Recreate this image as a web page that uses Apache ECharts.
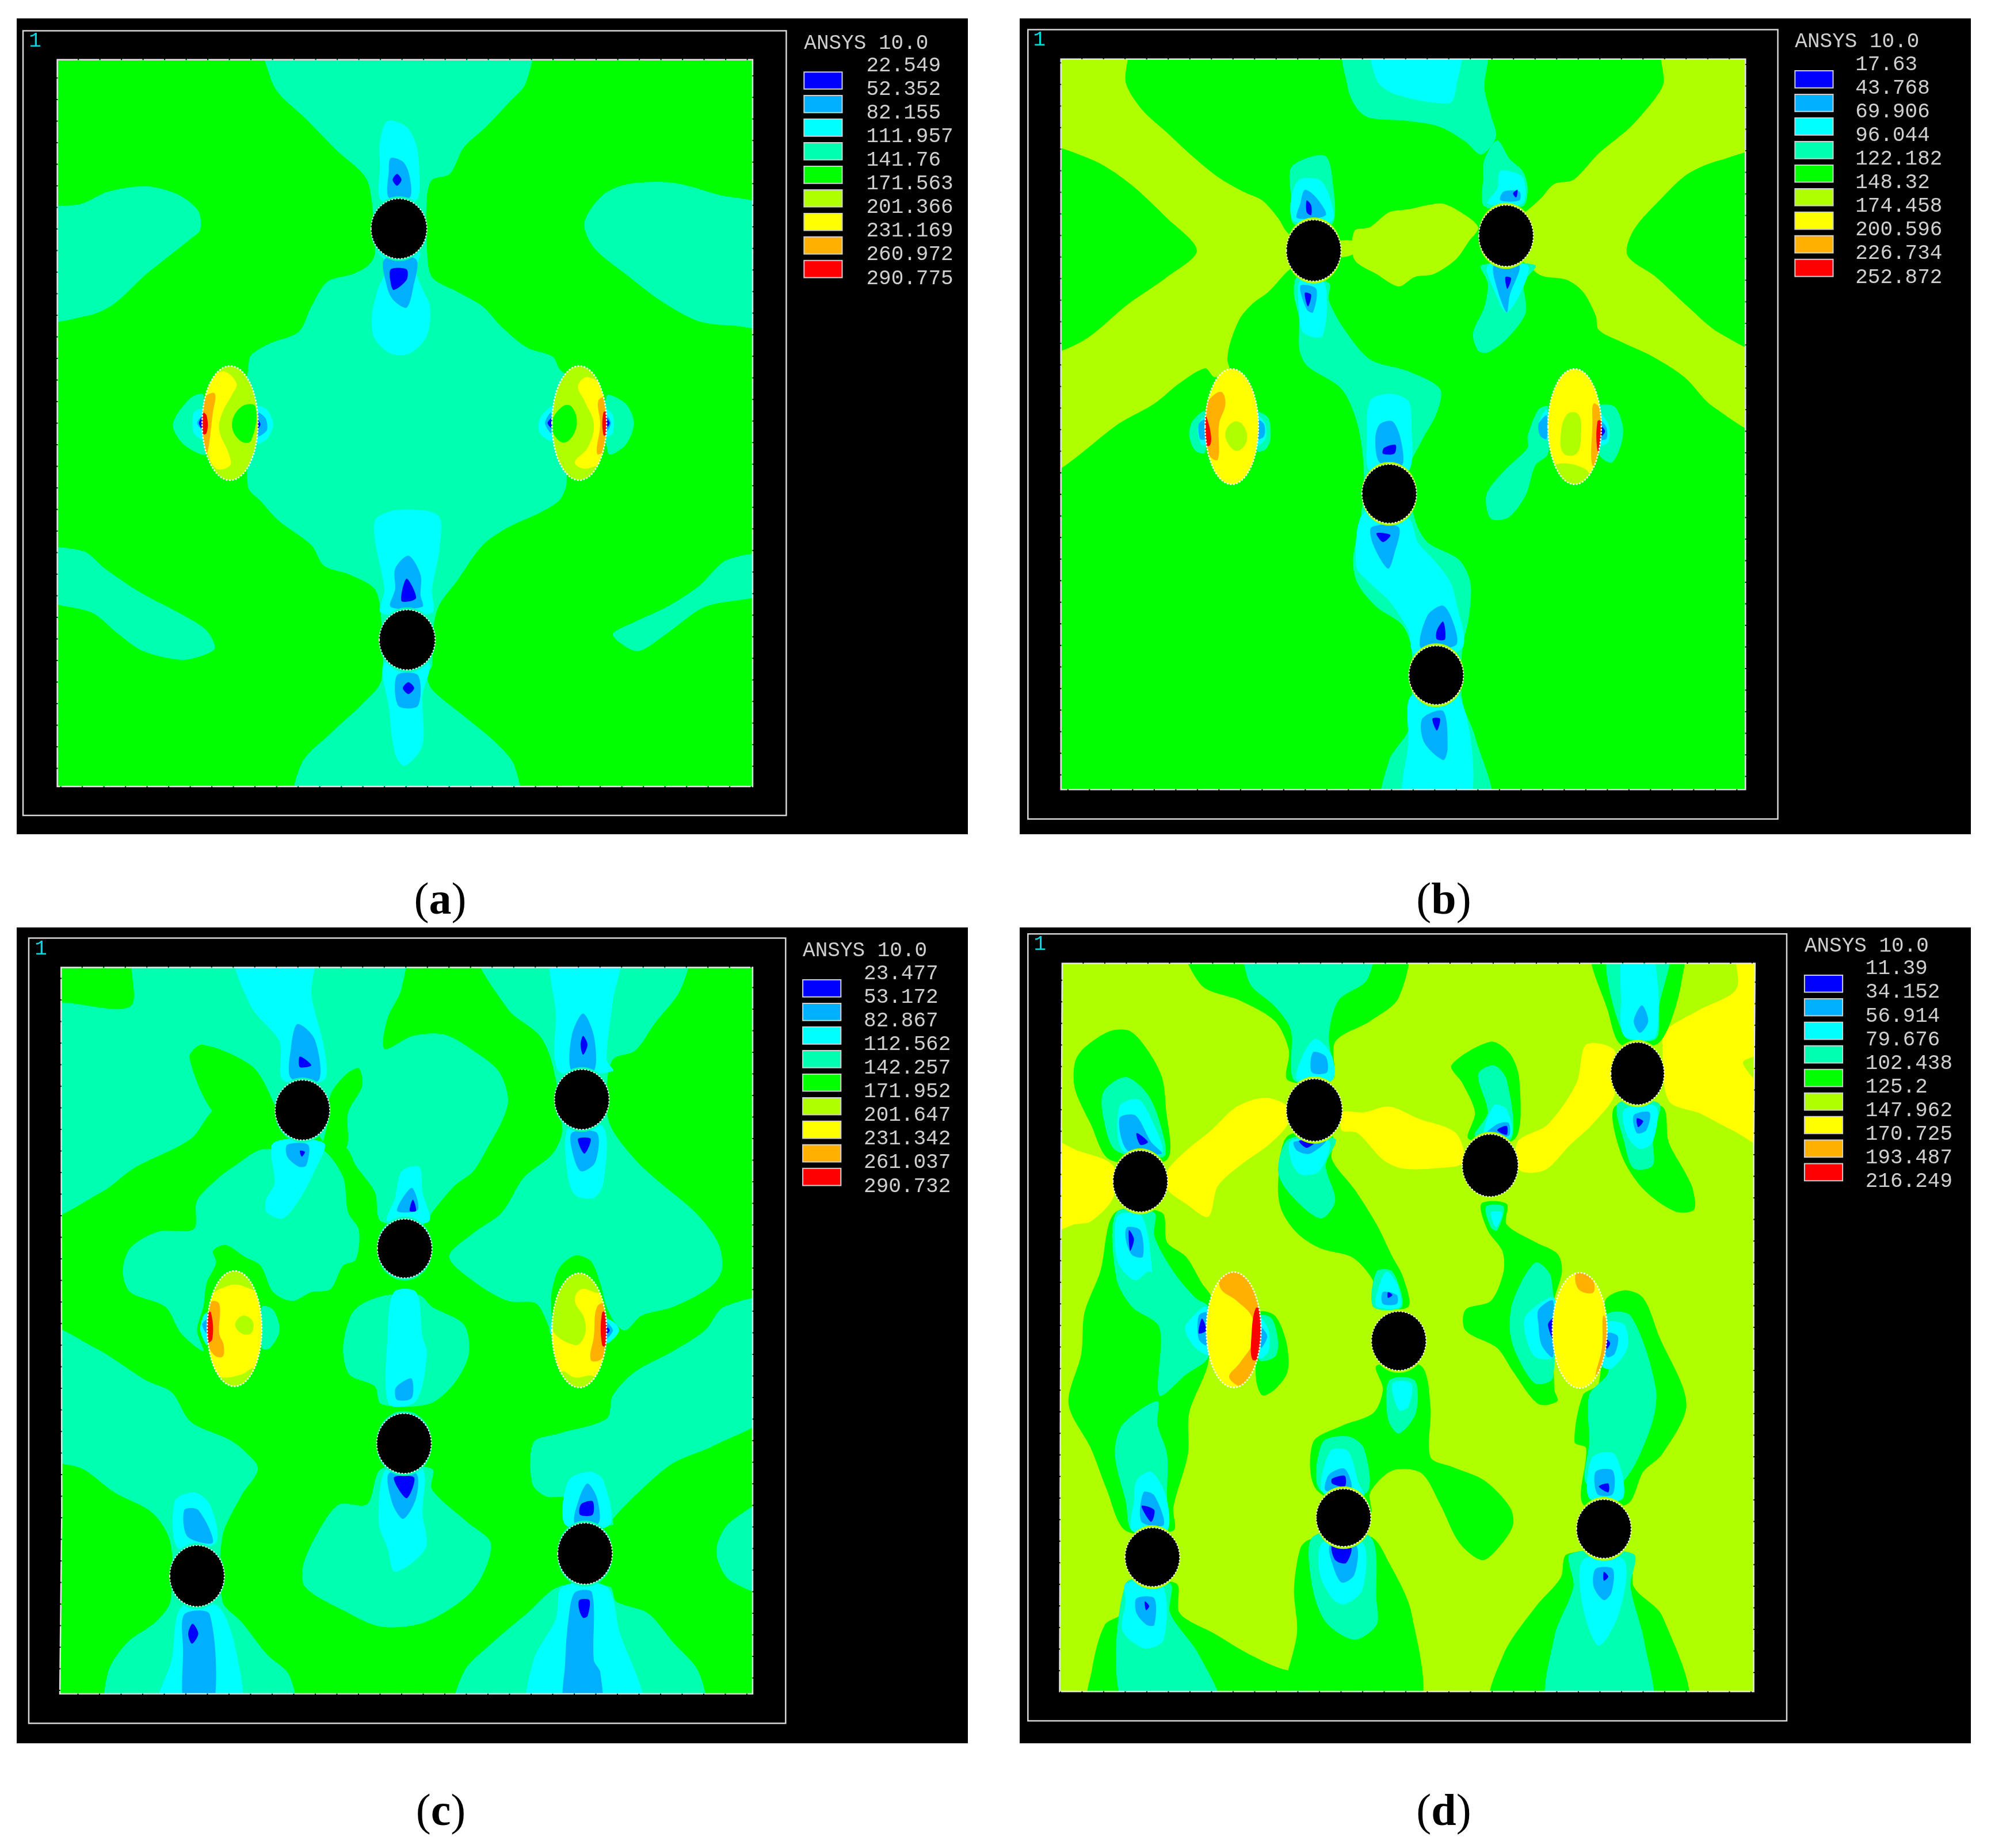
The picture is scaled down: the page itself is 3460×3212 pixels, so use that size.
<!DOCTYPE html>
<html><head><meta charset="utf-8"><style>html,body{margin:0;padding:0;background:#fff}#c{width:3460px;height:3212px}</style>
<script src="https://cdn.jsdelivr.net/npm/echarts@6/dist/echarts.min.js"></script></head><body><div id="c"></div>
<script>
// Contour colours, lowest band first
const bandColors=['#0000ff','#00b0ff','#00ffff','#00ffb0','#00ff00','#b0ff00','#ffff00','#ffb000','#ff0000'];
// Legend values
const legendA=['22.549','52.352','82.155','111.957','141.76','171.563','201.366','231.169','260.972','290.775'];
const legendB=['17.63','43.768','69.906','96.044','122.182','148.32','174.458','200.596','226.734','252.872'];
const legendC=['23.477','53.172','82.867','112.562','142.257','171.952','201.647','231.342','261.037','290.732'];
const legendD=['11.39','34.152','56.914','79.676','102.438','125.2','147.962','170.725','193.487','216.249'];
// Contour regions as [band, flat outline in model units]
const contoursA=[
[4,[90,101,1185,101,1185,1335,90,1335]],
[3,[418,101,832,101,828,140,800,175,765,215,730,250,708,295,680,305,672,335,672,420,680,470,720,495,760,520,790,555,830,590,870,605,880,625,892,640,892,820,890,830,880,850,850,870,800,895,760,925,720,985,690,1030,680,1085,680,1130,672,1145,680,1170,730,1215,780,1260,810,1300,813,1335,468,1335,475,1295,520,1245,570,1195,600,1155,600,1050,590,1000,550,975,510,960,490,925,440,885,410,850,390,825,392,610,420,585,470,563,490,520,515,478,555,465,580,450,590,430,585,340,575,300,530,255,480,200,440,160,425,130]],
[3,[90,362,130,345,170,325,230,316,280,330,312,358,315,390,300,405,265,435,230,465,180,515,140,535,90,540]],
[3,[1185,358,1130,330,1060,310,990,312,950,330,920,378,935,420,985,465,1040,510,1100,545,1150,552,1185,550]],
[3,[90,935,130,935,165,965,220,1005,290,1045,325,1070,338,1100,320,1112,285,1120,225,1105,185,1075,145,1040,90,1012]],
[3,[1185,943,1145,950,1100,995,1050,1030,1000,1055,965,1075,975,1090,1005,1105,1050,1075,1110,1030,1185,1003]],
[3,[320,670,300,675,272,720,290,755,325,770]],
[3,[955,672,985,685,998,718,985,755,958,770]],
[2,[610,205,640,215,655,245,660,290,655,340,600,340,598,280,598,240]],
[2,[595,425,660,425,655,460,665,490,677,520,672,570,645,600,615,600,590,575,585,540,595,490,610,450]],
[2,[592,880,630,865,690,875,692,930,680,1000,680,1040,600,1040,605,1000,590,915]],
[2,[605,1125,675,1125,665,1180,665,1265,637,1300,622,1280,612,1200]],
[2,[320,695,305,700,305,735,320,745]],[2,[405,690,420,695,430,720,420,745,405,752]],
[2,[955,695,965,705,965,735,955,740]],[2,[870,690,850,710,850,735,870,748]],
[1,[615,268,635,275,645,300,645,335,612,335,612,290]],[1,[605,440,655,440,650,490,640,522,620,510,610,490]],
[1,[643,943,662,975,662,1010,665,1030,615,1030,622,1000,622,965]],[1,[625,1146,658,1146,658,1198,627,1198]],
[1,[320,705,310,718,320,730]],[1,[405,700,418,710,420,730,405,740]],[1,[955,705,962,718,955,732]],[1,[868,700,858,718,868,735]],
[0,[625,295,632,305,625,315,618,305]],[0,[615,457,640,457,640,475,620,492,615,480]],[0,[640,982,655,1015,632,1020]],[0,[643,1158,652,1168,643,1178,634,1168]],
[0,[318,708,313,718,318,728]],[0,[405,712,410,720,405,728]],[0,[955,710,960,718,955,726]],[0,[868,710,862,718,868,726]]];
// Elliptical inclusions as [cx, cy, rx, ry, base band], contours inside them as [inclusion, band, flat outline]
const inclusionsA=[[362,718,44,97,5],[912,718,43,97,5]];
const insideA=[
[0,6,[350,630,372,650,365,670,350,700,345,730,360,770,362,790,340,795,325,760,318,700,330,650]],
[0,7,[322,675,338,668,335,700,325,770,316,720]],[0,8,[316,700,325,705,325,735,316,735]],[0,4,[380,690,402,690,395,748,378,748,365,720]],
[1,6,[925,640,950,660,958,770,925,795,905,785,925,760,935,720,920,680,910,655]],
[1,7,[942,680,955,675,955,760,940,770,945,720]],[1,8,[950,700,957,700,957,738,950,738]],[1,4,[885,690,900,690,908,720,895,748,880,748,868,720]]];
const holesA=[[628,388,44,51],[641,1086,44,51]];
const rimBandA=3;

const contoursB=[
[4,[103,100,1181,100,1181,1340,103,1340]],
[5,[103,100,205,100,205,140,230,185,270,225,310,265,350,300,390,325,420,340,445,370,460,395,500,425,460,460,430,495,405,515,385,540,370,580,365,610,368,628,345,640,330,625,290,650,250,685,200,715,103,797]],
[4,[103,255,150,270,210,310,270,370,317,425,270,470,210,515,135,580,103,595]],
[5,[1052,100,1181,100,1181,730,1130,690,1085,640,1035,605,985,580,950,560,945,535,925,495,900,475,855,465,804,400,860,335,880,312,910,305,950,260,1000,215,1040,165,1052,140]],
[4,[1181,262,1140,272,1090,295,1050,335,1005,390,995,433,1040,470,1090,520,1140,565,1181,592]],
[5,[565,392,590,385,620,360,650,355,700,345,725,355,760,385,745,410,725,440,690,465,660,470,635,486,600,465,565,440]],
[5,[540,410,565,410,565,430,540,435]],
[3,[552,100,770,100,770,150,780,195,788,232,765,262,740,240,700,215,650,205,590,200,570,185,555,150]],
[3,[790,238,810,270,830,290,838,320,830,350,770,350,768,300,770,270]],
[3,[765,450,850,450,832,480,835,530,805,575,775,598,760,595,752,565,770,520,775,480]],
[3,[465,285,490,268,520,265,530,300,530,380,470,380,465,330]],
[3,[475,470,525,480,525,510,550,560,590,610,650,630,700,660,695,700,670,750,650,800,660,880,680,920,730,950,748,990,745,1050,735,1100,735,1190,755,1250,778,1340,612,1340,620,1290,650,1240,655,1190,655,1100,640,1060,600,1030,570,990,563,950,575,880,580,800,570,720,545,660,490,620,478,590,478,540,470,500]],
[3,[870,690,855,695,838,740,838,760,800,800,773,840,780,880,808,878,835,840,850,790,870,770]],
[3,[950,690,975,690,988,725,985,755,970,785,950,770]],
[3,[330,698,310,715,305,740,315,765,330,768]],[3,[412,700,430,710,433,745,425,763,412,765]],
[2,[595,100,730,100,725,150,715,175,630,160,600,135]],
[2,[478,305,510,305,525,330,530,375,470,375,465,340]],
[2,[480,475,518,480,515,570,485,565,478,530]],
[2,[795,290,830,300,830,345,775,345,790,320]],
[2,[775,450,838,450,830,490,805,530,790,505]],
[2,[590,680,620,668,650,680,655,720,650,800,590,800,585,740]],
[2,[580,870,650,880,665,920,690,950,715,985,725,1020,735,1100,660,1110,650,1070,620,1020,590,990,568,960]],
[2,[655,1180,730,1180,745,1340,645,1340,650,1260]],
[2,[325,710,318,730,325,755,335,750,335,710]],[2,[412,705,425,720,425,745,412,755]],
[2,[868,695,855,720,862,745,870,745]],[2,[950,700,965,720,965,750,950,755]],
[1,[487,322,505,335,520,365,475,370,480,345]],[1,[480,485,505,490,500,530,490,525]],
[1,[800,325,825,325,825,340,795,340]],[1,[785,450,825,450,810,500,805,530,790,490]],
[1,[605,720,625,715,638,745,640,790,605,785,598,745]],[1,[592,895,635,895,628,940,618,965,595,925]],
[1,[680,1045,705,1028,722,1060,725,1095,670,1100]],[1,[672,1220,705,1207,712,1270,705,1290,675,1260]],
[1,[320,720,330,712,330,745,322,745]],[1,[412,712,423,720,423,740,412,745]],
[1,[868,705,855,720,858,740,868,745]],[1,[950,712,962,725,962,745,950,745]],
[0,[490,340,497,348,497,365,490,360]],[0,[487,497,497,500,492,520]],[0,[803,470,812,472,806,490]],
[0,[612,760,630,755,628,770,610,770]],[0,[600,905,622,908,610,920]],[0,[695,1070,705,1055,708,1085,695,1085]],
[0,[688,1220,700,1220,695,1240]],[0,[815,328,822,322,820,335]],[0,[952,722,960,732,952,742]]];
const inclusionsB=[[372,724,42,98,6],[912,724,42,98,6]];
const insideB=[
[0,7,[335,680,355,665,362,685,352,720,350,780,335,770,328,700]],[0,8,[328,700,338,730,338,755,328,755]],
[0,5,[378,715,392,725,395,750,380,765,365,750,363,730]],
[1,5,[900,703,918,703,922,740,915,770,895,770,890,740]],[1,5,[880,790,930,797,935,830,890,830]],
[1,7,[942,685,955,700,955,770,940,790,940,720]],[1,8,[948,715,955,715,955,765,948,765]]];
const holesB=[[501,425,43,52],[804,400,43,52],[620,838,43,50],[694,1146,43,50]];
const rimBandB=5;

const contoursC=[
[4,[96,74,1185,74,1185,1307,94,1307,97,1000]],
[3,[96,145,205,140,215,74,632,74,632,110,610,160,605,212,650,190,700,188,745,215,785,250,800,298,790,335,770,375,745,420,715,445,680,490,672,505,600,505,590,455,560,410,545,380,510,370,476,316,345,310,300,365,210,415,160,455,96,495]],
[4,[298,228,318,205,395,240,425,290,440,350,345,330]],
[4,[515,340,520,290,545,255,565,245,570,275,548,320,545,380,510,380]],
[3,[490,395,510,385,540,430,548,490,565,520,560,570,540,580,520,620,490,625,460,640,430,625,410,580,385,565,355,545,335,555,340,575,325,610,320,650,310,690,320,725,285,695,260,650,205,625,193,590,205,550,250,522,305,518,310,470,345,430,370,410,415,382]],
[3,[412,650,430,655,440,690,425,720,412,720]],
[3,[755,74,1080,74,1072,110,1030,170,1000,215,965,230,955,280,960,340,1000,400,1040,440,1095,490,1130,540,1137,585,1120,615,1060,650,1010,665,985,690,970,680,955,650,945,610,930,572,905,563,880,585,868,630,868,690,845,645,800,640,750,610,707,565,745,525,790,490,825,430,870,390,885,350,870,240,850,190,800,145]],
[3,[96,685,150,720,230,775,270,795,300,845,360,875,385,895,406,925,380,970,350,1040,350,1150,380,1185,420,1240,455,1275,460,1307,172,1307,170,1270,200,1220,245,1185,268,1150,268,1050,240,1000,180,965,130,925,96,900]],
[3,[578,985,535,985,510,1015,478,1085,480,1125,540,1165,600,1193,670,1185,745,1130,773,1053,735,1015,680,960,680,925,600,925]],
[3,[610,630,660,630,680,650,730,680,738,730,715,780,675,815,600,815,590,785,550,765,540,720,552,665,570,645]],
[3,[1185,640,1140,650,1110,690,1060,725,1000,760,965,800,955,840,880,865,840,880,838,950,860,972,890,975,890,1020,965,1020,965,1010,1010,960,1060,915,1125,885,1185,825]],
[3,[720,1307,730,1270,770,1225,830,1170,880,1125,960,1125,970,1150,1020,1170,1060,1220,1100,1270,1105,1307]],
[3,[1185,980,1150,1015,1130,1050,1130,1080,1150,1115,1185,1135]],
[2,[632,420,660,412,665,455,675,505,610,505,622,465]],
[2,[895,945,930,930,950,945,960,1020,890,1020]],
[2,[370,74,492,74,490,120,510,210,510,265,445,265,440,200,395,140]],
[2,[430,372,510,372,495,420,470,470,445,500,420,490,418,470,432,440]],
[2,[870,74,975,74,965,130,955,230,965,250,880,250,875,150]],
[2,[895,345,950,345,950,440,935,465,905,460,893,420]],
[2,[620,625,655,625,665,700,672,730,655,810,612,815,610,700]],
[2,[608,925,665,925,665,1000,670,1060,622,1100,610,1060,596,1015]],
[2,[275,980,305,965,330,985,340,1050,280,1060]],
[2,[285,1160,345,1160,378,1270,375,1307,248,1307,270,1250]],
[2,[885,1125,955,1125,975,1200,1010,1307,835,1307,840,1250,875,1180]],
[2,[950,670,965,675,975,690,960,710,950,710]],[2,[320,665,326,660,326,715,315,690]],[2,[866,680,866,695,872,695,872,680]],
[1,[468,170,495,195,502,265,458,262,458,210]],[1,[452,375,485,375,482,410,470,412,452,395]],
[1,[918,152,935,190,935,250,900,250,900,190]],[1,[900,355,940,355,937,405,915,420,903,395]],
[1,[648,448,658,485,625,487]],[1,[630,780,648,772,648,805,625,808,622,790]],
[1,[612,933,655,933,655,975,635,1010,618,985]],[1,[290,995,312,995,335,1050,295,1040]],
[1,[290,1172,330,1172,335,1307,292,1307,288,1230]],[1,[925,950,940,975,942,1018,905,1018,912,975]],
[1,[905,1135,932,1135,935,1250,945,1270,945,1307,890,1307,890,1250,895,1180]],
[1,[953,675,965,690,953,705]],[1,[325,672,318,680,325,695]],
[0,[472,225,490,240,472,243]],[0,[472,385,480,387,475,395]],[0,[918,190,925,205,918,222,914,205]],
[0,[910,365,930,365,920,390]],[0,[650,468,655,487,645,487]],[0,[620,940,652,940,640,975]],
[0,[303,1188,312,1205,302,1222,296,1205]],[0,[915,985,933,980,933,1003,913,1003]],[0,[912,1148,928,1148,925,1175,918,1178,912,1165]],[0,[953,682,960,690,953,698]]];
const inclusionsC=[[369,687,43,98,6],[912,690,43,97,6]];
const insideC=[
[0,5,[325,585,415,585,415,628,395,620,370,612,350,618,325,628]],[0,5,[325,760,350,770,380,765,400,755,415,790,325,790]],
[0,5,[382,665,398,675,395,695,380,695,370,680]],[0,7,[332,642,345,645,345,695,352,715,350,735,335,730,325,700]],[0,8,[324,660,332,660,334,705,324,710]],
[1,5,[868,590,945,590,945,625,915,620,905,640,920,670,920,700,905,715,868,685]],[1,5,[885,760,905,770,935,768,945,790,880,790]],
[1,7,[940,650,955,645,957,720,945,740,930,740,935,700]],[1,8,[948,660,957,660,957,715,948,715]]];
const holesC=[[476,316,43,51],[916,298,43,51],[637,551,43,50],[636,882,43,51],[310,1107,43,52],[921,1069,43,52]];
const rimBandC=3;

const contoursD=[
[5,[105,67,1196,67,1194,380,1194,1303,101,1303,103,525]],
[6,[105,365,130,385,185,410,185,465,150,505,125,510,103,525]],
[6,[270,420,300,385,340,350,380,310,425,295,460,310,460,340,430,375,385,410,350,445,335,497,300,475,270,450]],
[6,[545,320,580,320,620,310,665,330,725,355,737,405,690,415,640,415,610,400,570,355,545,350]],
[6,[822,370,870,340,915,270,930,205,975,215,975,290,940,340,905,375,865,418,825,418]],
[6,[1167,67,1196,67,1196,380,1160,350,1110,322,1060,300,1050,200,1055,180,1110,145,1167,110]],
[5,[1177,235,1192,225,1190,285]],
[4,[302,67,643,67,635,125,590,165,535,200,530,265,460,265,462,215,440,165,385,130,325,105]],
[4,[460,360,530,360,530,400,565,450,600,510,625,565,642,600,650,650,595,650,600,620,585,590,560,565,510,550,475,525,450,485,445,440]],
[4,[940,67,1080,67,1080,100,1060,175,1040,205,985,205,965,150]],
[4,[975,310,1050,310,1060,370,1085,420,1098,450,1100,485,1070,488,1020,450,985,390]],
[4,[180,182,212,182,240,215,262,260,268,310,270,400,180,400,150,340,125,280,125,235,140,210]],
[4,[718,240,780,200,810,220,825,265,818,365,745,365,755,320,735,270]],
[4,[765,475,805,475,805,510,850,540,885,560,892,590,880,640,880,790,885,810,855,815,815,760,790,720,740,690,740,655,780,640,800,590,798,555,775,520]],
[4,[188,490,262,490,270,540,300,565,325,610,340,635,335,745,305,830,303,900,280,990,280,1030,205,1030,175,960,150,890,115,815,135,730,140,660,165,590]],
[4,[215,1120,285,1120,290,1170,345,1205,400,1240,460,1267,500,1260,500,1303,150,1303,152,1265,172,1190,200,1170]],
[4,[495,1045,590,1040,620,1085,655,1170,663,1303,460,1303,475,1200,470,1130,480,1060]],
[4,[600,750,670,750,685,820,685,905,720,922,770,945,810,990,815,1020,795,1055,767,1080,730,1050,700,985,670,932,625,928,590,965,590,1000,505,960,500,880,545,852,595,830,610,790]],
[4,[900,1070,1000,1070,1005,1125,1050,1175,1085,1303,783,1303,800,1240,850,1160,890,1110]],
[4,[960,640,990,622,1020,635,1045,700,1088,815,1050,900,1020,930,995,985,925,985,930,890,912,880,925,800,950,780]],
[4,[415,660,440,665,458,710,460,760,440,790,420,800,410,770]],
[3,[397,67,590,67,585,95,540,130,525,190,530,265,470,265,465,180,440,140,400,100]],
[3,[462,365,535,365,520,410,535,470,512,500,465,460,445,420]],
[3,[170,285,205,260,240,290,262,350,265,395,190,385,170,330]],
[3,[190,490,250,490,250,530,280,590,315,635,335,650,335,735,300,765,258,800,258,685,215,650,190,600]],
[3,[188,900,200,850,255,810,255,850,270,900,270,960,265,1030,215,1030,205,980]],
[3,[205,1120,275,1120,275,1170,320,1240,352,1303,205,1303]],
[3,[760,255,785,240,805,265,812,365,755,360,775,320]],
[3,[965,67,1060,67,1045,140,1040,195,990,190]],
[3,[980,305,1045,305,1035,360,1035,410,1005,415,990,370]],
[3,[600,590,625,590,640,650,595,650]],
[3,[620,775,660,775,662,830,635,865,618,840]],
[3,[515,880,555,870,580,890,585,965,510,960]],
[3,[500,1040,590,1040,600,1150,600,1190,565,1215,520,1185,498,1120]],
[3,[815,640,850,575,875,600,878,770,850,780,820,730,810,690]],
[3,[960,665,1000,665,1040,790,1030,860,985,950,930,950,935,880,935,800,965,760]],
[3,[905,1070,1005,1070,1000,1125,1022,1220,1030,1303,873,1303,880,1210,910,1125]],
[3,[415,665,435,670,445,710,440,735,415,740]],[3,[772,480,800,480,790,520,780,515]],
[2,[485,220,505,195,530,225,530,265,475,265]],[2,[465,368,525,368,510,420,480,425,465,400]],
[2,[195,310,225,298,245,330,262,390,200,385]],[2,[193,495,230,495,247,590,240,590,220,605,195,580,188,540]],
[2,[222,945,245,930,268,970,270,1030,215,1030,218,980]],[2,[205,1120,262,1120,265,1215,235,1230,200,1200,205,1150]],
[2,[785,308,805,315,812,360,770,360]],[2,[990,67,1032,67,1040,190,990,190,985,130]],
[2,[990,315,1040,310,1035,370,1015,382,995,360]],[2,[600,630,615,590,632,610,637,650,600,650]],
[2,[625,780,655,780,650,820,635,825]],[2,[527,895,555,895,572,950,580,970,515,965]],
[2,[515,1050,578,1050,578,1130,550,1155,530,1145,510,1100]],[2,[300,680,332,650,335,730,315,720,300,695]],
[2,[418,670,430,690,430,725,415,738]],[2,[835,665,880,635,878,735,850,735,835,700]],
[2,[960,678,990,680,995,720,970,755,955,750]],[2,[940,905,975,900,988,975,935,975]],
[2,[925,1080,990,1080,982,1170,950,1225,925,1160]],[2,[780,490,798,490,788,515]],
[1,[195,330,220,325,245,370,262,390,208,385]],[1,[207,515,228,520,232,565,215,562,205,535]],
[1,[500,218,520,225,522,252,498,252]],[1,[470,370,520,368,495,390,475,385]],
[1,[233,965,250,970,265,1020,230,1015]],[1,[222,1145,250,1145,250,1190,238,1190,222,1170]],
[1,[790,340,808,338,808,360,770,360]],[1,[1018,138,1028,165,1015,185,1005,165]],
[1,[1005,325,1030,320,1025,350,1010,355]],[1,[610,625,632,630,632,645,610,645]],
[1,[525,935,550,925,560,960,520,962]],[1,[527,1055,568,1055,565,1105,545,1118,530,1085]],
[1,[945,930,972,928,972,968,948,968]],[1,[945,1095,972,1095,970,1135,958,1148,942,1125]],
[1,[320,665,333,660,333,715,320,705]],[1,[418,685,428,700,418,720]],
[1,[855,655,878,640,878,735,860,715,855,680]],[1,[962,695,980,700,975,730,962,735]],
[0,[222,355,240,370,228,375]],[0,[210,520,218,535,212,555]],[0,[478,368,505,368,490,380]],[0,[790,350,805,343,805,358]],
[0,[1010,330,1020,335,1012,345]],[0,[230,988,250,995,245,1015]],[0,[235,1150,242,1158,237,1165]],[0,[530,942,550,937,550,955,530,950]],
[0,[530,1055,560,1058,552,1085,535,1080]],[0,[950,955,965,950,965,965]],[0,[958,1100,965,1108,958,1115]],[0,[325,670,332,690,320,695]],
[0,[870,680,878,670,878,705]],[0,[962,705,968,712,962,722]],[0,[618,625,625,630,618,635]]];
const inclusionsD=[[375,689,43,98,6],[920,690,43,98,6]];
const insideD=[
[0,7,[355,600,385,590,405,610,415,650,418,730,395,785,368,770,385,745,405,710,405,670,380,640,355,620]],
[0,8,[410,652,420,660,420,730,405,740,403,700]],
[1,7,[915,590,935,590,942,625,918,620]],[1,7,[957,665,966,690,958,760,945,770,955,720]]];
const holesD=[[228,437,43,52],[502,316,44,53],[779,410,44,53],[1011,254,42,53],[635,708,43,50],[247,1075,43,50],[548,1008,43,49],[958,1027,43,50]];
const rimBandD=5;

// Page layout of each panel: box = pixel rectangle, dom = model range of the box
const panels=[
{box:[29,32,1682,1450],dom:[26,1524,31,1416],frame:[36,52,1238,1384],ansys:[1266,71],one:[55,70],labelDx:98,legend:legendA,contours:contoursA,incl:inclusionsA,inside:insideA,holes:holesA,rim:rimBandA},
{box:[1772,32,3425,1450],dom:[38,1536,31,1416],frame:[51,50,1232,1390],ansys:[1259,69],one:[69,68],labelDx:95,legend:legendB,contours:contoursB,incl:inclusionsB,inside:insideB,holes:holesB,rim:rimBandB},
{box:[29,1612,1682,3030],dom:[26,1524,6,1391],frame:[45,24,1237,1357],ansys:[1264,44],one:[64,43],labelDx:96,legend:legendC,contours:contoursC,incl:inclusionsC,inside:insideC,holes:holesC,rim:rimBandC},
{box:[1772,1612,3425,3030],dom:[38,1536,6,1391],frame:[51,17,1246,1353],ansys:[1274,36],one:[70,35],labelDx:96,legend:legendD,contours:contoursD,incl:inclusionsD,inside:insideD,holes:holesD,rim:rimBandD}];
const captions=[['a',765,1568],['b',2509,1568],['c',766,3152],['d',2509,3152]];

const pts=(api,f)=>{const o=[];for(let i=0;i<f.length;i+=2)o.push(api.coord([f[i],f[i+1]]));return o;};
// Outline vertices on the plot edge are pushed outside it, so that rounding never shows at the clip
const extrude=(f,base)=>{const xs=base.filter((_,i)=>i%2==0),ys=base.filter((_,i)=>i%2==1);
  const x0=Math.min(...xs),x1=Math.max(...xs),y0=Math.min(...ys),y1=Math.max(...ys),t=6,d=30;
  return f.map((v,i)=>i%2==0?(v<=x0+t?v-d:v>=x1-t?v+d:v):(v<=y0+t?v-d:v>=y1-t?v+d:v));};
const ell=(api,e,dy)=>{const s=dy||0,c=api.coord([e[0],e[1]+s]),p=api.coord([e[0]+e[2],e[1]+s+e[3]]);return{cx:c[0],cy:c[1],rx:p[0]-c[0],ry:p[1]-c[1]};};
const MONO='"Liberation Mono",monospace';
const TEXT='#cfcfcf';
const grid=[],xAxis=[],yAxis=[],series=[];
panels.forEach((p,k)=>{
  grid.push({left:p.box[0],top:p.box[1],width:p.box[2]-p.box[0],height:p.box[3]-p.box[1],show:true,backgroundColor:'#000',borderWidth:0});
  xAxis.push({type:'value',gridIndex:k,min:p.dom[0],max:p.dom[1],show:false});
  yAxis.push({type:'value',gridIndex:k,min:p.dom[2],max:p.dom[3],inverse:true,show:false});
  const base=p.contours[0][1];
  const common={type:'custom',xAxisIndex:k,yAxisIndex:k,silent:true,animation:false,clip:false};
  series.push({...common,name:'contours',data:p.contours.map((r,i)=>[i,r[0]]),renderItem(_,api){
    const i=api.value(0),r=p.contours[i];
    return{type:'polygon',shape:{points:pts(api,i?extrude(r[1],base):r[1]),smooth:i?0.3:0},style:{fill:bandColors[r[0]]},clipPath:{type:'polygon',shape:{points:pts(api,base)}}};}});
  series.push({...common,name:'plot edge',data:[[0]],renderItem(_,api){
    return{type:'polygon',shape:{points:pts(api,base)},style:{fill:'none',stroke:'#e6e6e6',lineWidth:2.5,lineDash:[35.5,2]}};}});
  series.push({...common,name:'inclusions',data:p.incl.map((e,i)=>[i,e[4]]),renderItem(_,api){
    return{type:'ellipse',shape:ell(api,p.incl[api.value(0)]),style:{fill:bandColors[api.value(1)]}};}});
  series.push({...common,name:'inclusion contours',data:p.inside.map((r,i)=>[i,r[1]]),renderItem(_,api){
    const r=p.inside[api.value(0)];
    return{type:'polygon',shape:{points:pts(api,r[2]),smooth:0.4},style:{fill:bandColors[r[1]]},clipPath:{type:'ellipse',shape:ell(api,p.incl[r[0]])}};}});
  series.push({...common,name:'inclusion edges',data:p.incl.map((e,i)=>[i]),renderItem(_,api){
    return{type:'ellipse',shape:ell(api,p.incl[api.value(0)]),style:{fill:'none',stroke:'#fff',lineWidth:2.5,lineDash:[3,2.5]}};}});
  series.push({...common,name:'hole rims',data:p.holes.map((e,i)=>[i]),renderItem(_,api){
    const h=p.holes[api.value(0)];
    return{type:'group',children:[-4,4].map(s=>({type:'ellipse',shape:ell(api,h,s),style:{fill:bandColors[p.rim]}}))};}});
  series.push({...common,name:'holes',data:p.holes.map((e,i)=>[i]),renderItem(_,api){
    return{type:'ellipse',shape:ell(api,p.holes[api.value(0)]),style:{fill:'#000',stroke:'#fff',lineWidth:2,lineDash:[2.5,3]}};}});
  series.push({...common,name:'frame',data:[[0]],renderItem(_,api){
    const a=api.coord([p.frame[0],p.frame[1]]),b=api.coord([p.frame[2],p.frame[3]]);
    const at=api.coord([p.ansys[0],p.ansys[1]+2]),on=api.coord(p.one);
    return{type:'group',children:[
      {type:'rect',shape:{x:a[0],y:a[1],width:b[0]-a[0],height:b[1]-a[1]},style:{fill:'none',stroke:'#d8d8d8',lineWidth:2.5}},
      {type:'text',style:{text:'ANSYS 10.0',x:at[0],y:at[1],fill:TEXT,fontFamily:MONO,fontSize:36,textVerticalAlign:'middle'}},
      {type:'text',style:{text:'1',x:on[0],y:on[1],textAlign:'center',fill:'#00d8e0',fontFamily:MONO,fontSize:36,textVerticalAlign:'middle'}}]};}});
  series.push({...common,name:'legend labels',data:p.legend.map((v,i)=>[i]),renderItem(_,api){
    const i=api.value(0),c=api.coord([p.ansys[0]+p.labelDx,p.ansys[1]+40.15*(i+1)]);
    return{type:'text',style:{text:p.legend[i],x:c[0],y:c[1],fill:TEXT,fontFamily:MONO,fontSize:36,textVerticalAlign:'middle'}};}});
  series.push({...common,name:'legend swatches',data:bandColors.map((c,i)=>[i]),renderItem(_,api){
    const i=api.value(0),a=api.coord([p.ansys[0],p.ansys[1]+51+40*i]),b=api.coord([p.ansys[0]+60,p.ansys[1]+80+40*i]);
    return{type:'rect',shape:{x:a[0],y:a[1],width:b[0]-a[0],height:b[1]-a[1]},style:{fill:bandColors[i],stroke:'#d0d0d0',lineWidth:2}};}});
});
const chart=echarts.init(document.getElementById('c'),null,{renderer:'canvas'});
chart.setOption({backgroundColor:'#fff',animation:false,grid,xAxis,yAxis,series,
  graphic:captions.map(c=>({type:'text',x:c[1],y:c[2],silent:true,style:{text:'{p|(}{b|'+c[0]+'}{p|)}',textAlign:'center',textVerticalAlign:'middle',rich:{p:{fontFamily:'"Liberation Serif"',fontSize:78,fill:'#000'},b:{fontFamily:'"Liberation Serif"',fontSize:78,fontWeight:'bold',fill:'#000'}}}}))});
</script></body></html>
